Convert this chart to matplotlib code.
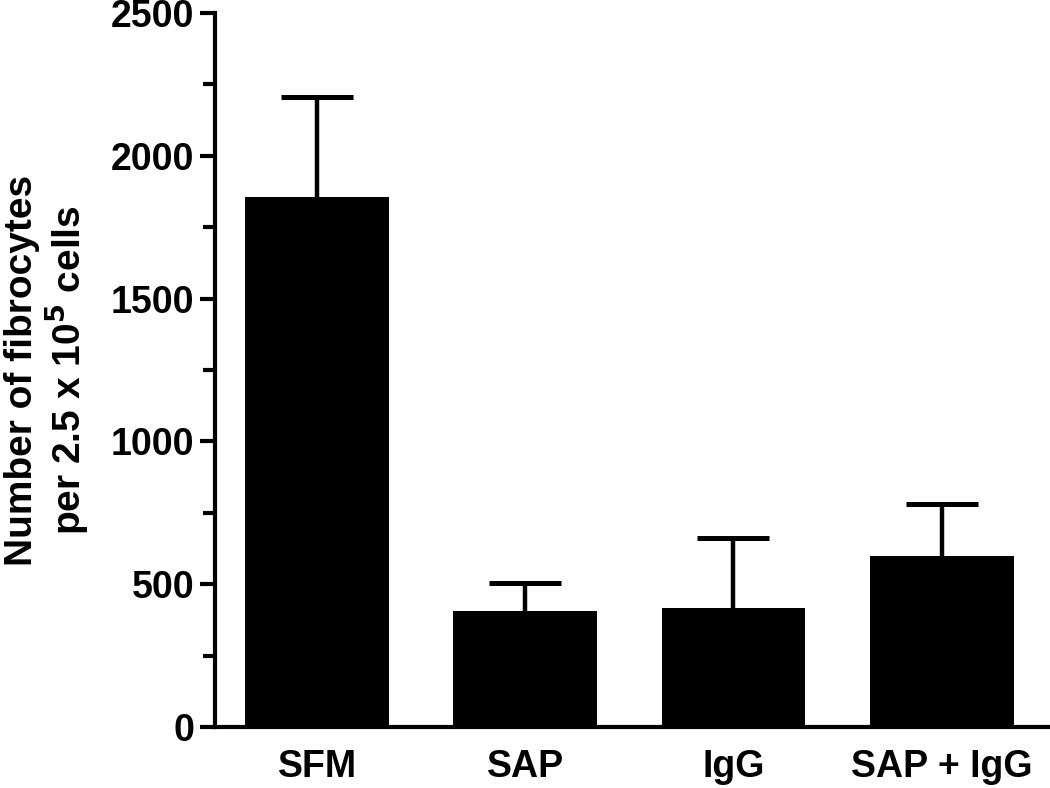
import numpy as np
import matplotlib
matplotlib.use("Agg")
import matplotlib.pyplot as plt
from matplotlib.ticker import MultipleLocator

# === DATA ===
groups = ["SFM", "SAP", "IgG", "SAP + IgG"]
means = [1855, 406, 417, 599]
err_up = [350, 98, 245, 182]

plt.rcParams["font.family"] = ["Liberation Sans", "DejaVu Sans"]
plt.rcParams["font.weight"] = "bold"

fig = plt.figure(figsize=(10.5, 7.88), dpi=100)
ax = fig.add_axes([0.2048, 0.0774, 0.7932, 0.9061])

x = np.arange(len(groups))
ax.bar(x, means, width=0.69, color="black", linewidth=0, zorder=2)
eb = ax.errorbar(x, means, yerr=[np.zeros(len(means)), err_up], fmt="none",
                 ecolor="black", elinewidth=3.2, capsize=26, capthick=3.6, zorder=3)
# only the upper cap is shown (lower cap would sit on the bar top)
eb[1][0].set_visible(False)

ax.set_xlim(-0.49, 3.51)
ax.set_ylim(0, 2500)
ax.yaxis.set_major_locator(MultipleLocator(500))
ax.yaxis.set_minor_locator(MultipleLocator(250))
ax.set_xticks(x)
ax.set_xticklabels(groups)

for s in ["top", "right"]:
    ax.spines[s].set_visible(False)
for s in ["left", "bottom"]:
    ax.spines[s].set_linewidth(3)

ax.tick_params(axis="y", which="major", length=11, width=3, pad=4, labelsize=27)
ax.tick_params(axis="y", which="minor", length=9, width=3)
ax.tick_params(axis="x", length=0, pad=16, labelsize=27)
for lab in ax.get_xticklabels() + ax.get_yticklabels():
    lab.set_fontweight("bold")

# y label placed in figure coords so it is not clipped
fig.text(0.045, 0.53, "Number of fibrocytes\nper 2.5 x 10$^{\\mathbf{5}}$ cells",
         rotation=90, ha="center", va="center", fontsize=28,
         fontweight="bold", linespacing=1.08)

fig.savefig("out.png", dpi=100)
